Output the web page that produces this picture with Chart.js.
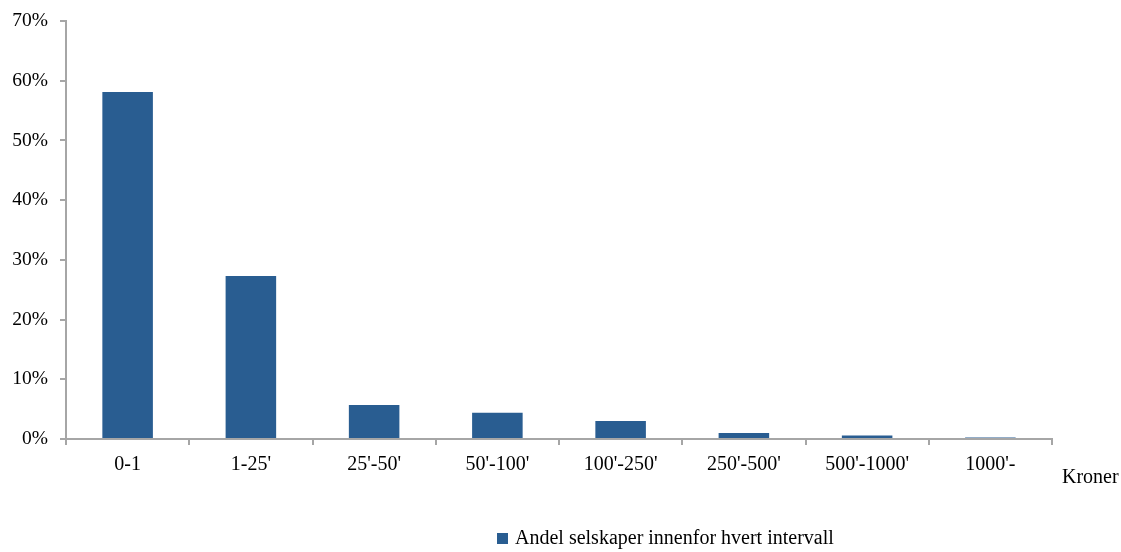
<!DOCTYPE html>
<html>
<head>
<meta charset="utf-8">
<script src="https://cdn.jsdelivr.net/npm/chart.js@4.4.1/dist/chart.umd.min.js"></script>
<style>
  html, body { margin: 0; padding: 0; background: #fff; }
  #wrap { width: 1121px; height: 552px; }
</style>
</head>
<body>
<div id="wrap"><canvas id="chart" width="1121" height="552"></canvas></div>
<script>
const intervals = ["0-1", "1-25'", "25'-50'", "50'-100'", "100'-250'", "250'-500'", "500'-1000'", "1000'-"];
const andel = [58.1, 27.3, 5.7, 4.4, 3.0, 1.0, 0.6, 0.25];
const seriesName = "Andel selskaper innenfor hvert intervall";
const axisUnit = "Kroner";

const barColor = '#295d91';
const axisColor = '#a6a6a6';
const fontFamily = "'Liberation Serif', 'Times New Roman', serif";

// unit label at the end of the x axis, legend under the plot
const extras = {
  id: 'extras',
  afterDraw(chart) {
    const ctx = chart.ctx;
    ctx.save();
    ctx.fillStyle = '#000';
    ctx.font = '20px ' + fontFamily;
    ctx.textBaseline = 'middle';
    ctx.textAlign = 'left';
    ctx.fillText(axisUnit, 1062, 478);

    const ds = chart.data.datasets[0];
    ctx.fillStyle = ds.backgroundColor;
    ctx.fillRect(497, 533, 11, 11);
    ctx.fillStyle = '#000';
    ctx.fillText(ds.label, 515, 539);
    ctx.restore();
  }
};

new Chart(document.getElementById('chart'), {
  type: 'bar',
  data: {
    labels: intervals,
    datasets: [{
      label: seriesName,
      data: andel,
      backgroundColor: barColor,
      borderWidth: 0,
      barPercentage: 0.41,
      categoryPercentage: 1
    }]
  },
  options: {
    responsive: false,
    animation: false,
    layout: { padding: { left: 0, right: 69, top: 21, bottom: 0 } },
    plugins: {
      legend: { display: false },
      tooltip: { enabled: false }
    },
    scales: {
      x: {
        grid: { display: true, drawOnChartArea: false, color: axisColor, tickLength: 6, lineWidth: 2 },
        border: { color: axisColor, width: 2 },
        ticks: { color: '#000', font: { family: fontFamily, size: 20 }, padding: 8, maxRotation: 0 },
        afterFit(scale) { scale.height = 113; }
      },
      y: {
        min: 0,
        max: 70,
        grid: { display: true, drawOnChartArea: false, color: axisColor, tickLength: 6, lineWidth: 2 },
        border: { color: axisColor, width: 2 },
        ticks: {
          stepSize: 10,
          color: '#000',
          font: { family: fontFamily, size: 19.5 },
          padding: 12,
          callback: v => v + '%'
        },
        afterFit(scale) {
          scale.width = 66;
          scale.paddingTop = 0;
          scale.paddingBottom = 0;
        }
      }
    }
  },
  plugins: [extras]
});
</script>
</body>
</html>
